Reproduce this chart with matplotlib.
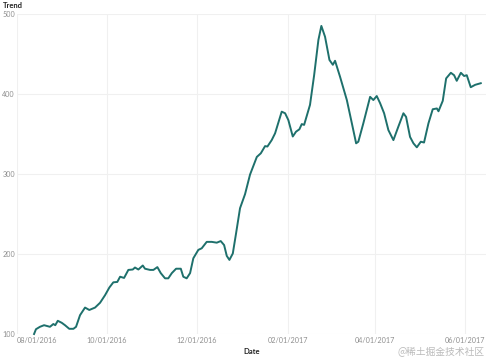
import pandas as pd
import matplotlib
matplotlib.use("Agg")
import matplotlib.pyplot as plt

# days after 2016-08-01
days = [11.5, 12.8, 15.5, 18.3, 22.3, 24.6, 25.9, 27.6, 30.3, 32.5, 35.4, 38.2, 40, 42.7,
        46.1, 49, 52.9, 56.3, 59.7, 62.6, 65.3, 68, 69.9, 72.6, 75.5, 78.5, 80, 82.3, 85.3,
        86.8, 90.2, 92.5, 95.2, 97.5, 100.4, 102.6, 105, 107.9, 111.1, 112.8, 115.1, 117.4,
        119.6, 123, 125.3, 128.7, 132.1, 135.5, 138.2, 140.5, 142.3, 144.1, 146.4, 148.6,
        151.3, 154.7, 158.1, 162.7, 165.4, 168.3, 169.9, 172.8, 175.1, 179.6, 181.9, 184.1,
        187.1, 189.3, 191.6, 193.2, 194.8, 198.8, 201.6, 204.5, 206.5, 209, 212, 214.3,
        215.8, 219.2, 223.8, 227.2, 230.1, 231.6, 235, 239.6, 241.8, 244.1, 246.4, 249.1,
        252, 255.4, 258.8, 262.2, 264, 266.7, 269, 271.3, 274, 276.2, 279.2, 282.1, 284.9,
        286, 288.9, 291.2, 294.4, 296.6, 298.4, 301.2, 303.4, 305.2, 307.9, 310.9, 314.7]
trend = [100, 106, 109, 111, 109, 112.5, 111, 116.5, 114, 111, 106.5, 106.5, 109, 123.5,
         133, 130, 133, 139, 148.5, 158, 164.5, 165, 171.5, 170, 180, 180.5, 183, 180.5, 185.5,
         181.5, 180, 180, 183.5, 176, 169.5, 169.5, 176, 181.5, 181.5, 171.5, 169.5, 176,
         194.5, 205, 207, 215, 215, 214, 216, 211, 197.5, 192.5, 200.5, 225.5,
         257, 274.5, 299, 321, 325.5, 334.5, 334, 342, 350.5, 377.5, 375.5, 367,
         346.5, 352.5, 355.5, 362, 361, 386, 423, 467, 484.5, 471, 442, 436,
         441, 421, 392, 363, 338, 340, 363, 396, 392, 397, 388, 375.5,
         354.5, 342, 359, 375.5, 371, 346, 338, 333, 340, 339, 363, 380.5, 381.5,
         378, 391, 419, 426, 423, 416, 426, 422, 423, 408, 411, 413]

tick_dates = ["2016-08-01", "2016-10-01", "2016-12-01", "2017-02-01", "2017-04-01", "2017-06-01"]
y_ticks = [100, 200, 300, 400, 500]

start = pd.Timestamp("2016-08-01")
dates = start + pd.to_timedelta(days, unit="D")

fig = plt.figure(figsize=(4.89, 3.62), dpi=100)
ax = fig.add_axes([0.035, 0.0773, 0.959, 0.8854])

ax.plot(dates, trend, color="#1e706c", lw=1.4, solid_joinstyle="round", clip_on=False)

ax.set_xlim(start, start + pd.Timedelta(days=318.3))
ax.set_ylim(100, 500)

ticks = pd.to_datetime(tick_dates)
ax.set_xticks(ticks)
ax.set_xticklabels([t.strftime("%m/%d/%Y") for t in ticks])
ax.set_yticks(y_ticks)
ax.tick_params(length=0, labelsize=5.2, labelcolor="#8f8f8f", pad=2.5)
ax.tick_params(axis="y", pad=1.5)
for lab in ax.get_xticklabels() + ax.get_yticklabels():
    lab.set_fontfamily("Lato")
ax.get_xticklabels()[0].set_horizontalalignment("left")

ax.grid(True, color="#f0f0f0", lw=0.8)
for s in ax.spines.values():
    s.set_visible(False)

fig.text(0.006, 0.985, "Trend", fontsize=5.5, fontweight="bold", family="Lato",
         color="#222222", va="center", ha="left")
fig.text(0.515, 0.028, "Date", fontsize=5.5, fontweight="bold", family="Lato",
         color="#222222", va="center", ha="center")
fig.text(0.992, 0.028, "@稀土掘金技术社区", fontsize=7, color="#bbbbbb",
         family=["Noto Sans CJK SC", "DejaVu Sans"], va="center", ha="right")

fig.savefig("out.png", dpi=100)
